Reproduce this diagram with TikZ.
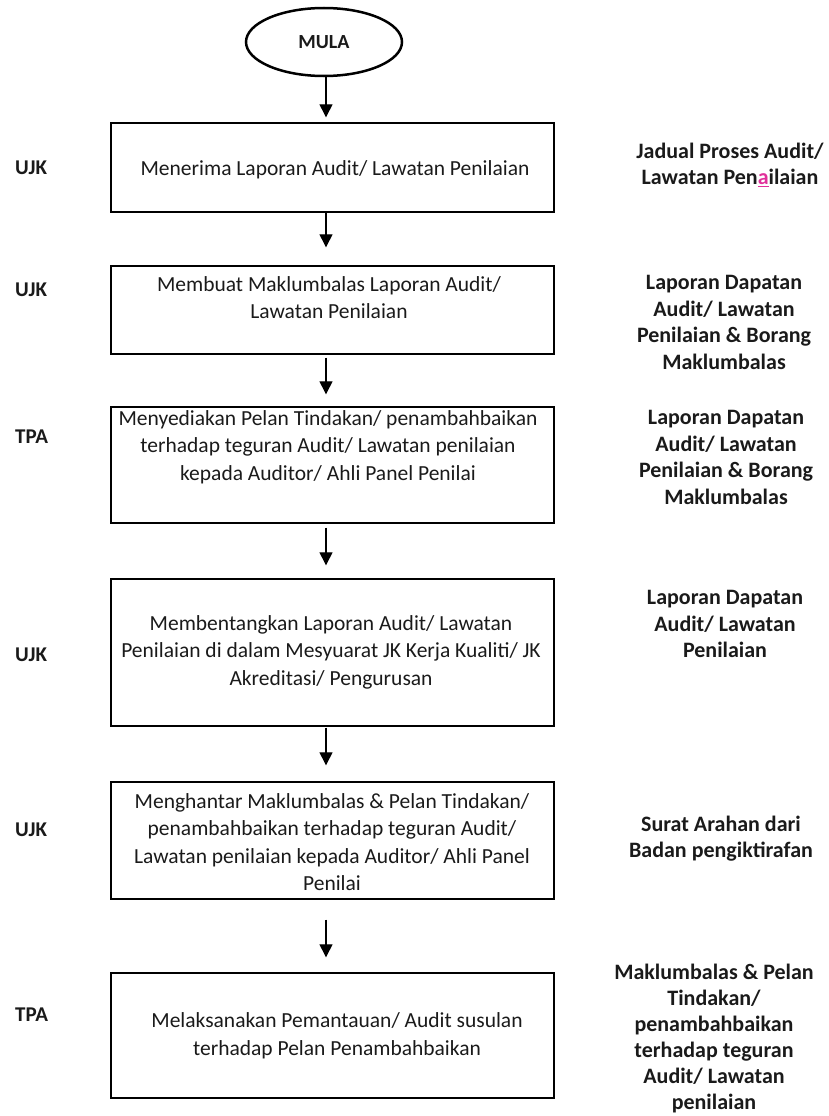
\documentclass[tikz,border=0pt]{standalone}
\usepackage{fontspec}
\setmainfont{Carlito}
\usetikzlibrary{arrows.meta,shapes.geometric,calc}
\definecolor{pinkmark}{HTML}{E0309A}
\definecolor{ink}{HTML}{1A1A1A}
\begin{document}
\begin{tikzpicture}[x=1pt,y=-1pt,
  box/.style={draw,line width=1.4pt,minimum width=443pt,inner sep=0pt},
  boxtext/.style={align=center,inner sep=0pt,text=ink,font=\fontsize{21.5}{27.5}\selectfont},
  side/.style={align=center,inner sep=0pt,text=ink,font=\fontsize{22}{26.5}\selectfont\bfseries},
  role/.style={anchor=west,inner sep=0pt,text=ink,font=\fontsize{21}{24}\selectfont\bfseries},
  arr/.style={line width=1.3pt,-{Triangle[width=13pt,length=13pt]}}]
\useasboundingbox (0,0) rectangle (828,1116);
\coordinate (ax) at (326,0);
% start
\node[draw,ellipse,line width=2.5pt,minimum width=156pt,minimum height=68pt,inner sep=0pt,
  text=ink,font=\fontsize{20}{22}\selectfont\bfseries] (mula) at (324,42) {MULA};
% boxes
\node[box,minimum height=89pt] (b1) at (332.5,167.5) {};
\node[box,minimum height=88pt] (b2) at (332.5,310) {};
\node[box,minimum height=116pt] (b3) at (332.5,465) {};
\node[box,minimum height=147pt] (b4) at (332.5,652.5) {};
\node[box,minimum height=117pt] (b5) at (332.5,840.5) {};
\node[box,minimum height=125pt] (b6) at (332.5,1035.5) {};
% box texts
\node[boxtext] (t1) at (335,170) {Menerima Laporan Audit/ Lawatan Penilaian};
\node[boxtext] (t2) at (329,297.5) {Membuat Maklumbalas Laporan Audit/\\Lawatan Penilaian};
\node[boxtext] (t3) at (328,447) {Menyediakan Pelan Tindakan/ penambahbaikan\\terhadap teguran Audit/ Lawatan penilaian\\kepada Auditor/ Ahli Panel Penilai};
\node[boxtext] (t4) at (331,652) {Membentangkan Laporan Audit/ Lawatan\\Penilaian di dalam Mesyuarat JK Kerja Kualiti/ JK\\Akreditasi/ Pengurusan};
\node[boxtext] (t5) at (332,842) {Menghantar Maklumbalas \& Pelan Tindakan/\\penambahbaikan terhadap teguran Audit/\\Lawatan penilaian kepada Auditor/ Ahli Panel\\Penilai};
\node[boxtext] (t6) at (337,1036) {Melaksanakan Pemantauan/ Audit susulan\\terhadap Pelan Penambahbaikan};
% roles
\node[role] (r1) at (15,168) {UJK};
\node[role] (r2) at (15,290) {UJK};
\node[role] (r3) at (15,437) {TPA};
\node[role] (r4) at (15,655) {UJK};
\node[role] (r5) at (15,830) {UJK};
\node[role] (r6) at (15,1015) {TPA};
% documents
\node[side] (d1) at (730,165) {Jadual Proses Audit/\\Lawatan Pen{\color{pinkmark}\underline{a}}ilaian};
\node[side] (d2) at (724,322.5) {Laporan Dapatan\\Audit/ Lawatan\\Penilaian \& Borang\\Maklumbalas};
\node[side] (d3) at (726,457.5) {Laporan Dapatan\\Audit/ Lawatan\\Penilaian \& Borang\\Maklumbalas};
\node[side] (d4) at (725,624) {Laporan Dapatan\\Audit/ Lawatan\\Penilaian};
\node[side] (d5) at (721,838.5) {Surat Arahan dari\\Badan pengiktirafan};
\node[side,font=\fontsize{22}{26}\selectfont\bfseries] (d6) at (714,1038) {Maklumbalas \& Pelan\\Tindakan/\\penambahbaikan\\terhadap teguran\\Audit/ Lawatan\\penilaian};
% connectors
\draw[arr] (mula.south -| ax) -- ($(b1.north -| ax)+(0,-5)$);
\draw[arr] (b1.south -| ax) -- ($(b2.north -| ax)+(0,-18)$);
\draw[arr] ($(b2.south -| ax)+(0,3)$) -- ($(b3.north -| ax)+(0,-12)$);
\draw[arr] ($(b3.south -| ax)+(0,4)$) -- ($(b4.north -| ax)+(0,-13)$);
\draw[arr] ($(b4.south -| ax)+(0,1)$) -- ($(b5.north -| ax)+(0,-16)$);
\draw[arr] ($(b5.south -| ax)+(0,20)$) -- ($(b6.north -| ax)+(0,-15)$);
\end{tikzpicture}
\end{document}
